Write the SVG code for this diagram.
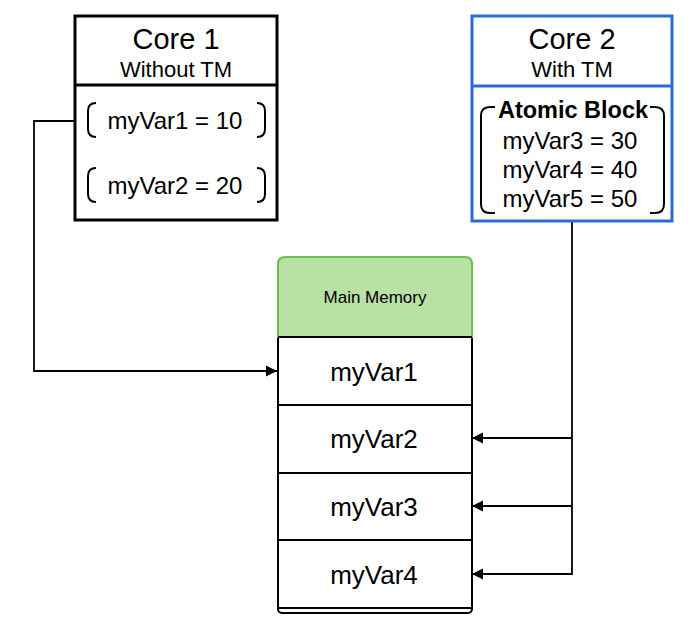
<svg xmlns="http://www.w3.org/2000/svg" width="694" height="632" viewBox="0 0 694 632">
<defs>
<marker id="arr" markerWidth="12" markerHeight="12" refX="11" refY="6" orient="auto" markerUnits="userSpaceOnUse">
<path d="M0,0.5 L11,6 L0,11.5 Z" fill="#000"/>
</marker>
<style>
text{font-family:"Liberation Sans",Arial,Helvetica,sans-serif;fill:#000;text-anchor:middle}
.box{fill:#fff;stroke-width:3}
.br{fill:none;stroke:#000;stroke-width:2}
.row{fill:#fff;stroke:#000;stroke-width:2}
.conn{fill:none;stroke:#000;stroke-width:1.8}
</style>
</defs>
<rect width="694" height="632" fill="#fff"/>
<g id="connectors">
<path class="conn" d="M75,121 H34 V371 H277" marker-end="url(#arr)"/>
<path class="conn" d="M572,222 V574 H472" marker-end="url(#arr)"/>
<path class="conn" d="M572,438 H472" marker-end="url(#arr)"/>
<path class="conn" d="M572,506 H472" marker-end="url(#arr)"/>
</g>
<g id="core1">
<rect class="box" x="75" y="16" width="202" height="204" stroke="#000"/>
<line x1="75" y1="85" x2="277" y2="85" stroke="#000" stroke-width="3"/>
<text x="176" y="49" font-size="29">Core 1</text>
<text x="176" y="77" font-size="22">Without TM</text>
<path class="br" d="M96,103 Q88,103 88,111 V129 Q88,137 96,137"/>
<path class="br" d="M257,103 Q265,103 265,111 V129 Q265,137 257,137"/>
<text x="175" y="129" font-size="24">myVar1 = 10</text>
<path class="br" d="M96,168 Q88,168 88,176 V194 Q88,202 96,202"/>
<path class="br" d="M257,168 Q265,168 265,176 V194 Q265,202 257,202"/>
<text x="175" y="194" font-size="24">myVar2 = 20</text>
</g>
<g id="core2">
<rect class="box" x="472" y="16" width="200" height="205" stroke="#2c6bcf"/>
<line x1="472" y1="86" x2="672" y2="86" stroke="#2c6bcf" stroke-width="3"/>
<text x="572" y="49" font-size="29">Core 2</text>
<text x="572" y="77" font-size="22">With TM</text>
<path class="br" d="M495,107 H490 Q481,107 481,116 V204 Q481,213 490,213 H495"/>
<path class="br" d="M650,107 H655 Q664,107 664,116 V204 Q664,213 655,213 H650"/>
<text x="573" y="118" font-size="23.5" font-weight="bold">Atomic Block</text>
<text x="570" y="149" font-size="24">myVar3 = 30</text>
<text x="570" y="178" font-size="24">myVar4 = 40</text>
<text x="570" y="207" font-size="24">myVar5 = 50</text>
</g>
<g id="memory">
<rect x="278" y="600" width="194" height="13" rx="4" class="row"/>
<rect x="278" y="540" width="194" height="68" class="row"/>
<rect x="278" y="473" width="194" height="67" class="row"/>
<rect x="278" y="405" width="194" height="68" class="row"/>
<rect x="278" y="337" width="194" height="68" class="row"/>
<path d="M278,337 V264 Q278,257 285,257 H465 Q472,257 472,264 V337 Z" fill="#b9e0a5" stroke="#6cc04a" stroke-width="2"/>
<line x1="278" y1="337" x2="472" y2="337" stroke="#000" stroke-width="2"/>
<text x="375" y="303" font-size="17">Main Memory</text>
<text x="374" y="381" font-size="26">myVar1</text>
<text x="374" y="448" font-size="26">myVar2</text>
<text x="374" y="516" font-size="26">myVar3</text>
<text x="374" y="584" font-size="26">myVar4</text>
</g>
</svg>
